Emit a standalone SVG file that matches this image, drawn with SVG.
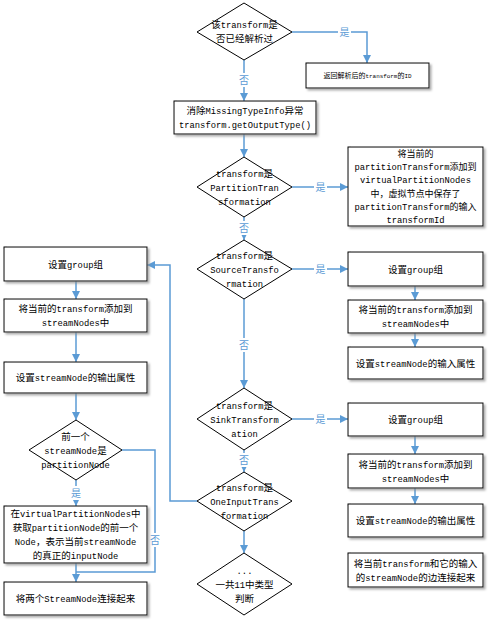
<svg xmlns="http://www.w3.org/2000/svg" width="495" height="623" viewBox="0 0 495 623">
<defs>
<style>
.b{fill:#fff;stroke:#000;stroke-width:1;filter:url(#sh)}
.d{fill:#fff;stroke:#000;stroke-width:1}
.t{font-family:"Noto Sans CJK SC","Liberation Sans",sans-serif;font-size:9.5px;fill:#000;text-anchor:middle}
.s{font-size:9px}
.e{font-family:"Liberation Mono","Noto Sans CJK SC",monospace;font-size:8.8px}
.c{fill:none;stroke:#5b9bd5;stroke-width:1.5}
.ca{fill:none;stroke:#5b9bd5;stroke-width:1.5;marker-end:url(#a)}
.l{font-family:"Noto Sans CJK SC",sans-serif;font-size:10px;fill:#5b9bd5;text-anchor:middle}
.lb{fill:#fff}
</style>
<filter id="sh" x="-10%" y="-10%" width="130%" height="140%">
<feDropShadow dx="2" dy="2" stdDeviation="0.8" flood-color="#888" flood-opacity="0.7"/>
</filter>
<marker id="a" viewBox="0 0 10 10" refX="10" refY="5" markerWidth="9" markerHeight="8" markerUnits="userSpaceOnUse" orient="auto">
<path d="M0,0 L10,5 L0,10 z" fill="#5b9bd5"/>
</marker>
</defs>
<rect width="495" height="623" fill="#fff"/>

<g id="connectors">
<path class="c" d="M292,32 H367 V62"/><path class="ca" d="M367,55 V63"/>
<path class="ca" d="M244,60 V101"/>
<path class="ca" d="M244,134 V157"/>
<path class="ca" d="M292,187 H348"/>
<path class="ca" d="M244,217 V240"/>
<path class="ca" d="M292,269 H348"/>
<path class="ca" d="M415,286 V300"/>
<path class="ca" d="M415,333 V347"/>
<path class="ca" d="M244,299 V388"/>
<path class="ca" d="M292,419 H348"/>
<path class="ca" d="M415,436 V454"/>
<path class="ca" d="M415,488 V504"/>
<path class="ca" d="M244,450 V472"/>
<path class="ca" d="M244,531 V553"/>
<path class="ca" d="M197,501 H170 V265 H147"/>
<path class="ca" d="M76,281 V299"/>
<path class="ca" d="M76,332 V362"/>
<path class="ca" d="M76,393 V420"/>
<path class="ca" d="M76,480 V506"/>
<path class="ca" d="M76,563 V582"/>
<path class="c" d="M122,450 H155 V572 H76"/>
<rect class="lb" x="338" y="25" width="13" height="14"/><text class="l" x="344.5" y="36">是</text>
<rect class="lb" x="237" y="73" width="14" height="14"/><text class="l" x="244" y="84">否</text>
<rect class="lb" x="314" y="180" width="13" height="14"/><text class="l" x="320.5" y="191">是</text>
<rect class="lb" x="237" y="221" width="14" height="14"/><text class="l" x="244" y="232">否</text>
<rect class="lb" x="314" y="262" width="13" height="14"/><text class="l" x="320.5" y="273">是</text>
<rect class="lb" x="237" y="338" width="14" height="14"/><text class="l" x="244" y="349">否</text>
<rect class="lb" x="314" y="412" width="13" height="14"/><text class="l" x="320.5" y="423">是</text>
<rect class="lb" x="237" y="453" width="14" height="14"/><text class="l" x="244" y="464">否</text>
<rect class="lb" x="69" y="486" width="14" height="14"/><text class="l" x="76" y="497">是</text>
<rect class="lb" x="148" y="533" width="14" height="14"/><text class="l" x="155" y="544">否</text>
</g>

<g id="n_parsed">
<polygon class="d" points="244,3 292,32 244,60 197,32"/>
<text class="t" x="244.5" y="28">该<tspan class="e">transform</tspan>是</text>
<text class="t" x="244.5" y="42">否已经解析过</text>
</g>
<g id="n_return">
<rect class="b" x="306" y="63" width="123" height="25"/>
<text class="t" x="367.5" y="78" style="font-size:7px">返回解析后的<tspan class="e" style="font-size:5.9px">transform</tspan>的<tspan class="e" style="font-size:5.9px">ID</tspan></text>
</g>
<g id="n_eliminate">
<rect class="b" x="174" y="101" width="142" height="33"/>
<text class="t" x="245" y="114">消除<tspan class="e">MissingTypeInfo</tspan>异常</text>
<text class="t" x="245" y="128"><tspan class="e">transform.getOutputType()</tspan></text>
</g>
<g id="n_partition">
<polygon class="d" points="244,157 292,187 244,217 197,187"/>
<text class="t" x="244.5" y="176.6"><tspan class="e">transform</tspan>是</text>
<text class="t" x="244.5" y="190.6"><tspan class="e">PartitionTran</tspan></text>
<text class="t" x="244.5" y="204.6"><tspan class="e">sformation</tspan></text>
</g>
<g id="n_virtual">
<rect class="b" x="348" y="147" width="135" height="79"/>
<text class="t s" x="415.5" y="157.2">将当前的</text>
<text class="t s" x="415.5" y="170.3"><tspan class="e">partitionTransform</tspan>添加到</text>
<text class="t s" x="415.5" y="183.4"><tspan class="e">virtualPartitionNodes</tspan></text>
<text class="t s" x="415.5" y="196.5">中，虚拟节点中保存了</text>
<text class="t s" x="415.5" y="209.6"><tspan class="e">partitionTransform</tspan>的输入</text>
<text class="t s" x="415.5" y="222.7"><tspan class="e">transformId</tspan></text>
</g>
<g id="n_source">
<polygon class="d" points="244,240 292,269 244,299 197,269"/>
<text class="t" x="244.5" y="259"><tspan class="e">transform</tspan>是</text>
<text class="t" x="244.5" y="273"><tspan class="e">SourceTransfo</tspan></text>
<text class="t" x="244.5" y="287"><tspan class="e">rmation</tspan></text>
</g>
<g id="n_src_group">
<rect class="b" x="348" y="252" width="135" height="34"/>
<text class="t" x="415.5" y="272.6">设置<tspan class="e">group</tspan>组</text>
</g>
<g id="n_src_add">
<rect class="b" x="348" y="300" width="135" height="33"/>
<text class="t" x="415.5" y="313">将当前的<tspan class="e">transform</tspan>添加到</text>
<text class="t" x="415.5" y="327"><tspan class="e">streamNodes</tspan>中</text>
</g>
<g id="n_src_input">
<rect class="b" x="348" y="347" width="135" height="32"/>
<text class="t" x="415.5" y="366.6">设置<tspan class="e">streamNode</tspan>的输入属性</text>
</g>
<g id="n_sink">
<polygon class="d" points="244,388 292,419 244,450 197,419"/>
<text class="t" x="244.5" y="408.6"><tspan class="e">transform</tspan>是</text>
<text class="t" x="244.5" y="422.6"><tspan class="e">SinkTransform</tspan></text>
<text class="t" x="244.5" y="436.6"><tspan class="e">ation</tspan></text>
</g>
<g id="n_sink_group">
<rect class="b" x="348" y="403" width="135" height="33"/>
<text class="t" x="415.5" y="423">设置<tspan class="e">group</tspan>组</text>
</g>
<g id="n_sink_add">
<rect class="b" x="348" y="454" width="135" height="34"/>
<text class="t" x="415.5" y="467.6">将当前的<tspan class="e">transform</tspan>添加到</text>
<text class="t" x="415.5" y="481.6"><tspan class="e">streamNodes</tspan>中</text>
</g>
<g id="n_sink_output">
<rect class="b" x="348" y="504" width="135" height="33"/>
<text class="t" x="415.5" y="524">设置<tspan class="e">streamNode</tspan>的输出属性</text>
</g>
<g id="n_oneinput">
<polygon class="d" points="244,472 292,501 244,531 197,501"/>
<text class="t" x="244.5" y="491"><tspan class="e">transform</tspan>是</text>
<text class="t" x="244.5" y="505"><tspan class="e">OneInputTrans</tspan></text>
<text class="t" x="244.5" y="519"><tspan class="e">formation</tspan></text>
</g>
<g id="n_more">
<polygon class="d" points="244,553 292,584 244,615 197,584"/>
<text class="t" x="244.5" y="573.6"><tspan class="e">...</tspan></text>
<text class="t" x="244.5" y="587.6">一共<tspan class="e">11</tspan>中类型</text>
<text class="t" x="244.5" y="601.6">判断</text>
</g>
<g id="n_edge">
<rect class="b" x="348" y="553" width="135" height="34"/>
<text class="t" x="415.5" y="566.6">将当前<tspan class="e">transform</tspan>和它的输入</text>
<text class="t" x="415.5" y="580.6">的<tspan class="e">streamNode</tspan>的边连接起来</text>
</g>
<g id="n_l_group">
<rect class="b" x="4" y="247" width="143" height="34"/>
<text class="t" x="75.5" y="267.6">设置<tspan class="e">group</tspan>组</text>
</g>
<g id="n_l_add">
<rect class="b" x="4" y="299" width="143" height="33"/>
<text class="t" x="75.5" y="312">将当前的<tspan class="e">transform</tspan>添加到</text>
<text class="t" x="75.5" y="326"><tspan class="e">streamNodes</tspan>中</text>
</g>
<g id="n_l_output">
<rect class="b" x="4" y="362" width="143" height="31"/>
<text class="t" x="75.5" y="381">设置<tspan class="e">streamNode</tspan>的输出属性</text>
</g>
<g id="n_l_prev">
<polygon class="d" points="76,420 122,450 76,480 29,450"/>
<text class="t" x="75.5" y="439.6">前一个</text>
<text class="t" x="75.5" y="453.6"><tspan class="e">streamNode</tspan>是</text>
<text class="t" x="75.5" y="467.6"><tspan class="e">partitionNode</tspan></text>
</g>
<g id="n_l_real">
<rect class="b" x="4" y="506" width="143" height="57"/>
<text class="t" x="75.5" y="517.4">在<tspan class="e">virtualPartitionNodes</tspan>中</text>
<text class="t" x="75.5" y="531.2">获取<tspan class="e">partitionNode</tspan>的前一个</text>
<text class="t" x="75.5" y="545"><tspan class="e">Node</tspan>，表示当前<tspan class="e">streamNode</tspan></text>
<text class="t" x="75.5" y="558.8">的真正的<tspan class="e">inputNode</tspan></text>
</g>
<g id="n_l_connect">
<rect class="b" x="4" y="582" width="143" height="33"/>
<text class="t" x="75.5" y="602">将两个<tspan class="e">StreamNode</tspan>连接起来</text>
</g>
</svg>
